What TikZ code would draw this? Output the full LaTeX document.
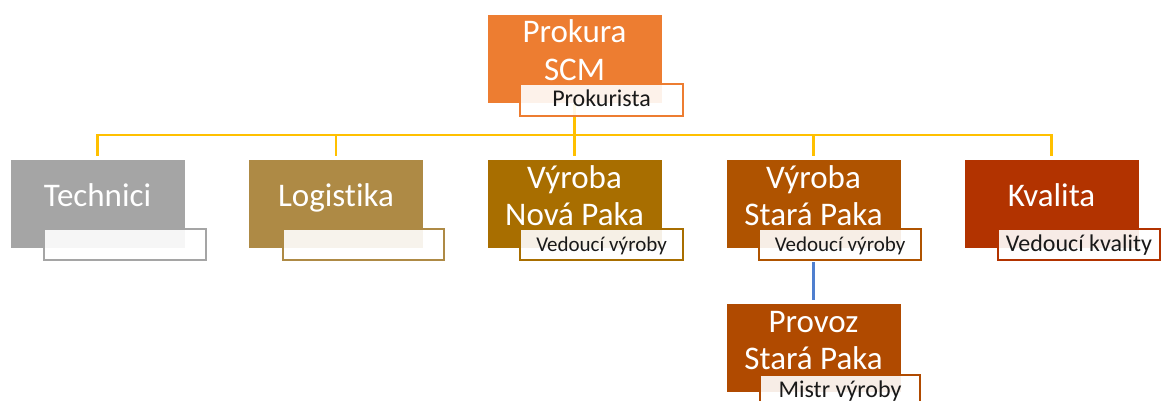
\documentclass[tikz,border=0pt]{standalone}
\usepackage{fontspec}
\setmainfont{Carlito}[Ligatures=NoCommon]
\usetikzlibrary{backgrounds}
\definecolor{cProk}{HTML}{ED7D31}
\definecolor{cTech}{HTML}{A5A5A5}
\definecolor{cLogi}{HTML}{AE8A45}
\definecolor{cVnp}{HTML}{A86E00}
\definecolor{cVsp}{HTML}{AF5300}
\definecolor{cKval}{HTML}{B23300}
\definecolor{cProv}{HTML}{B04A00}
\definecolor{cLine}{HTML}{FFC000}
\definecolor{cBlue}{HTML}{4F7FCF}
\begin{document}
\begin{tikzpicture}[x=1pt,y=-1pt,
  unit/.style={rectangle, minimum width=175pt, minimum height=89pt, inner sep=0pt, draw=white, line width=0.6pt},
  title/.style={anchor=base, text=white, align=center, font=\fontsize{33}{37.5}\selectfont, inner sep=0pt},
  role/.style={rectangle, minimum width=163pt, minimum height=31pt, inner sep=0pt, fill=white, fill opacity=0.9, text opacity=1, line width=2pt, text=black!90, font=\fontsize{24}{28}\selectfont, text height=17pt, text depth=4pt},
  conn/.style={draw=cLine, line width=2.8pt},
  sub/.style={draw=cBlue, line width=2.2pt}
]
\useasboundingbox (0,0) rectangle (1162,401);

% top
\node[unit, fill=cProk] (prok) at (574.5,58.5) {};
\node[title] (prokT) at (574.5,80.5) {Prokura\\SCM};
\node[role, draw=cProk, minimum height=32pt] (prokR) at (601.5,100) {Prokurista};

% second level
\node[unit, fill=cTech] (tech) at (97.5,203.5) {};
\node[title] (techT) at (97.5,206.7) {Technici};
\node[role, draw=cTech, minimum width=162pt] (techR) at (125,244.5) {};

\node[unit, fill=cLogi] (logi) at (336,203.5) {};
\node[title] (logiT) at (336,206.7) {Logistika};
\node[role, draw=cLogi, minimum width=161pt] (logiR) at (363.5,244.5) {};

\node[unit, fill=cVnp] (vnp) at (574.5,203.5) {};
\node[title] (vnpT) at (574.5,225.5) {Výroba\\Nová Paka};
\node[role, draw=cVnp, font=\fontsize{21}{25}\selectfont] (vnpR) at (601.5,244.5) {Vedoucí výroby};

\node[unit, fill=cVsp] (vsp) at (813.5,203.5) {};
\node[title] (vspT) at (813.5,225.5) {Výroba\\Stará Paka};
\node[role, draw=cVsp, minimum width=162pt, font=\fontsize{21}{25}\selectfont] (vspR) at (840,244.5) {Vedoucí výroby};

\node[unit, fill=cKval] (kval) at (1051.5,203.5) {};
\node[title] (kvalT) at (1051.5,206.7) {Kvalita};
\node[role, draw=cKval, minimum width=162pt] (kvalR) at (1079,244.5) {Vedoucí kvality};

% third level
\node[unit, fill=cProv] (prov) at (813.5,347.5) {};
\node[title] (provT) at (813.5,369.5) {Provoz\\Stará Paka};
\node[role, draw=cProv, minimum width=160pt] (provR) at (840,390.5) {Mistr výroby};

% connectors
\coordinate (bus) at (574.5,135);
\begin{scope}[on background layer]
\fill[white] (0,0) rectangle (1162,401);
\draw[conn] (prok.south) -- (bus);
\foreach \n in {tech,logi,vnp,vsp,kval}
  \draw[conn, shorten >=3pt] (bus) -| (\n.north);
\draw[sub, shorten <=1pt, shorten >=3pt] (vsp.south |- vspR.south) -- (prov.north);
\end{scope}
\end{tikzpicture}
\end{document}
